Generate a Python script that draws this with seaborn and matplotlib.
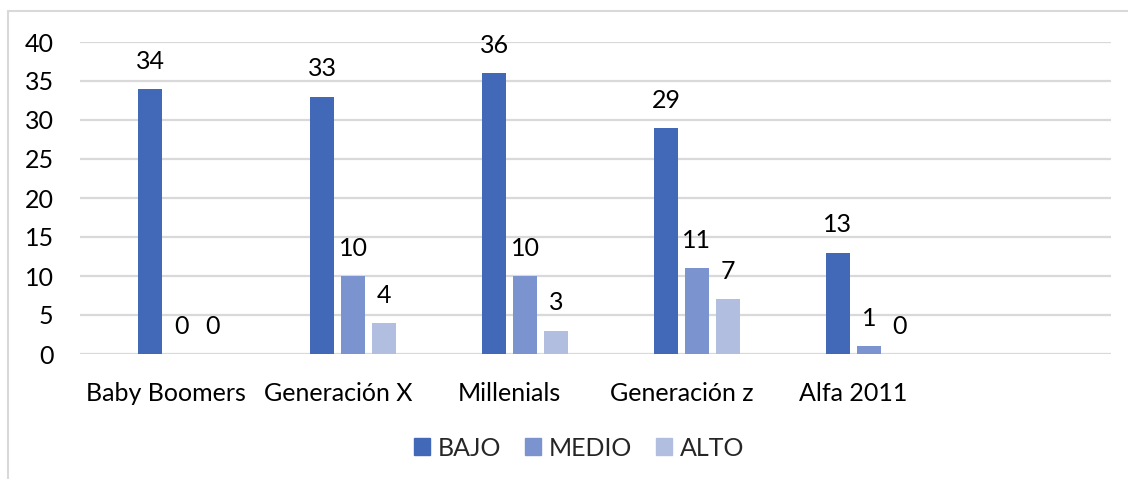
import matplotlib
matplotlib.use("Agg")
import matplotlib.pyplot as plt
import matplotlib.lines as mlines
import matplotlib.patches as mpatches
import seaborn as sns
import pandas as pd
import numpy as np

# Data
categories = ["Baby Boomers", "Generación X", "Millenials", "Generación z", "Alfa 2011", " "]
bajo = [34, 33, 36, 29, 13, np.nan]
medio = [0, 10, 10, 11, 1, np.nan]
alto = [0, 4, 3, 7, 0, np.nan]
series_names = ["BAJO", "MEDIO", "ALTO"]
yticks = [0, 5, 10, 15, 20, 25, 30, 35, 40]

colors = {"": "#ffffff", "BAJO": "#4169B8", "MEDIO": "#7B93CF", "ALTO": "#B2BEE0"}

rows = []
for name, vals in zip(series_names, [bajo, medio, alto]):
    for c, v in zip(categories, vals):
        rows.append({"Generación": c, "Nivel": name, "Valor": v})
# an empty leading series keeps its slot in each group
for c in categories:
    rows.append({"Generación": c, "Nivel": "", "Valor": np.nan})
df = pd.DataFrame(rows)

sns.set_theme(style="white")
plt.rcParams["font.family"] = ["Lato", "DejaVu Sans"]
FS = 18

fig = plt.figure(figsize=(11.28, 4.79), dpi=100)
ax = fig.add_axes([80 / 1128, 1 - 354 / 479, (1111 - 80) / 1128, (354 - 42) / 479])

hue_order = ["", "BAJO", "MEDIO", "ALTO"]
sns.barplot(data=df, x="Generación", y="Valor", hue="Nivel", hue_order=hue_order,
            order=categories, palette=colors, width=0.722, gap=0.226,
            errorbar=None, legend=False, ax=ax, linewidth=0, saturation=1)

ax.set_ylim(0, 40)
ax.set_xlim(-0.5, len(categories) - 0.5)
ax.set_yticks(yticks)
ax.yaxis.grid(True, color="#D9D9D9", linewidth=1.6)
ax.set_axisbelow(True)
for s in ax.spines.values():
    s.set_visible(False)
ax.set_xlabel("")
ax.set_ylabel("")
ax.tick_params(axis="both", length=0, labelsize=FS, colors="black")
ax.tick_params(axis="x", pad=20)
ax.tick_params(axis="y", pad=19)

# value labels above each bar
for container, name in zip(ax.containers, hue_order):
    if name == "":
        continue
    for rect in container:
        h = rect.get_height()
        if np.isnan(h):
            continue
        ax.annotate(f"{int(h)}", (rect.get_x() + rect.get_width() / 2, h),
                    xytext=(0, 20), textcoords="offset points",
                    ha="center", va="center", fontsize=FS, color="black")

handles = [mpatches.Patch(color=colors[n], label=n) for n in series_names]
fig.legend(handles=handles, loc="center", bbox_to_anchor=(579 / 1128, 1 - 448 / 479),
           ncol=3, frameon=False, fontsize=FS, handlelength=0.65, handleheight=0.65,
           handletextpad=0.3, columnspacing=0.95)

# chart frame (top and left edges)
fig.add_artist(mlines.Line2D([7.5 / 1128, 1], [1 - 11 / 479, 1 - 11 / 479],
                             transform=fig.transFigure, color="#D9D9D9", linewidth=1.5))
fig.add_artist(mlines.Line2D([7.5 / 1128, 7.5 / 1128], [0, 1 - 11 / 479],
                             transform=fig.transFigure, color="#D9D9D9", linewidth=1.5))

fig.savefig("out.png", dpi=100)
